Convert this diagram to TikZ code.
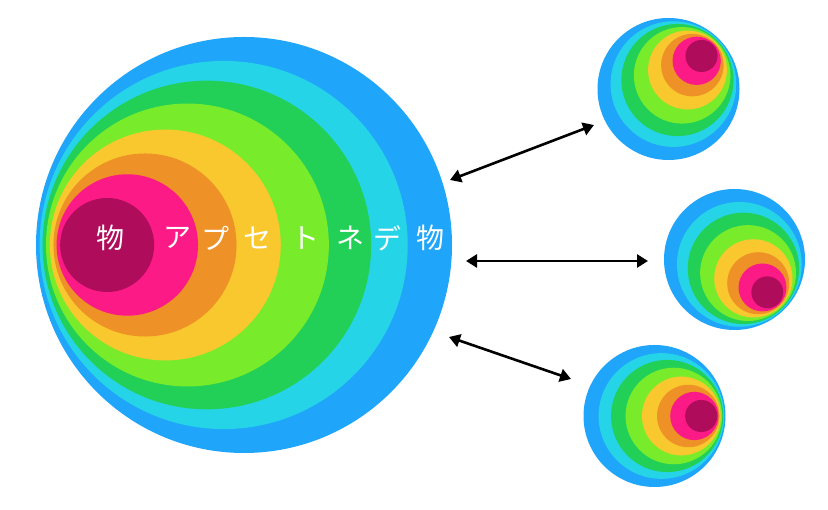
\documentclass[tikz,border=0pt]{standalone}
\usepackage{fontspec}
\newfontfamily\jpfont{Noto Sans CJK JP}
\usetikzlibrary{calc,arrows.meta}

\definecolor{cblue}{HTML}{1FA5FA}
\definecolor{ccyan}{HTML}{26D4E8}
\definecolor{cgreen}{HTML}{22D057}
\definecolor{clime}{HTML}{78EC2B}
\definecolor{cyellow}{HTML}{F9C72E}
\definecolor{corange}{HTML}{EE9126}
\definecolor{cpink}{HTML}{FC1A86}
\definecolor{cplum}{HTML}{AF0C5B}

% bubble: centre, radius, direction of the inner rings
\newcommand{\bubble}[3]{%
  \foreach \f/\c in {1/cblue,0.885/ccyan,0.79/cgreen,0.68/clime,0.555/cyellow,0.44/corange,0.34/cpink,0.226/cplum}
    \fill[\c] ($(#1)+(#3:{0.85*(1-\f)*#2})$) circle ({\f*#2});%
}

\tikzset{
  link/.style={line width=2.6pt, {Triangle[length=11pt,width=13pt]}-{Triangle[length=11pt,width=13pt]}},
  label/.style={text=white, font=\jpfont\fontsize{28}{30}\selectfont, inner sep=0pt}
}

\begin{document}
\begin{tikzpicture}[x=1pt,y=1pt]
      \useasboundingbox (0,0) rectangle (828,510);

      % bubbles
      \coordinate (B)  at (244,265);
      \coordinate (S1) at (668.5,421);
      \coordinate (S2) at (734.5,250.5);
      \coordinate (S3) at (654.5,94);

      \bubble{B}{208}{180}
      \bubble{S1}{71}{45}
      \bubble{S2}{70.5}{-45}
      \bubble{S3}{71}{0}

      % word across the big bubble
      \foreach \x/\ch [count=\i] in {110/物,177/ア,215/プ,257/セ,305/ト,350/ネ,387/デ,430/物}
        \node[label] (t\i) at (\x,272) {\ch};

      % arrow ends
      \coordinate (A1) at (450,330);
      \coordinate (E1) at (594,385);
      \coordinate (A2) at (466,249);
      \coordinate (E2) at (648,249);
      \coordinate (A3) at (449,173);
      \coordinate (E3) at (571,131);

      \draw[link] (A1) -- (E1);
      \draw[link] (A2) -- (E2);
      \draw[link] (A3) -- (E3);
\end{tikzpicture}
\end{document}
